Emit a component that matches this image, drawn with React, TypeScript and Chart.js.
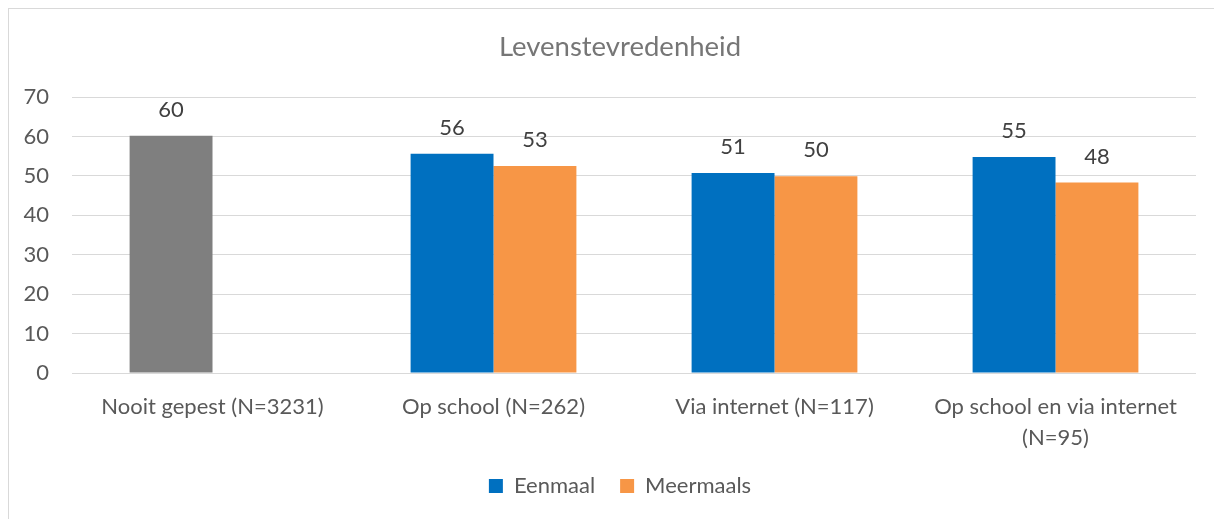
import React, { useEffect, useRef } from "react";
import { Chart, registerables } from "chart.js";

Chart.register(...registerables);

const chartTitle = "Levenstevredenheid";
const categories: string[][] = [
  ["Nooit gepest (N=3231)"],
  ["Op school (N=262)"],
  ["Via internet (N=117)"],
  ["Op school en via internet", "(N=95)"],
];
const seriesNames = ["Eenmaal", "Meermaals"];
const eenmaal: (number | null)[] = [60.2, 55.6, 50.7, 54.8];
const meermaals: (number | null)[] = [null, 52.5, 49.9, 48.3];
const yMin = 0;
const yMax = 70;
const yStep = 10;

const BLUE = "#0070C0";
const ORANGE = "#F79646";
const GRAY = "#7F7F7F";
const TEXT = "#595959";
const FONT = "Lato";

const dataLabelPlugin = {
  id: "dataLabels",
  afterDatasetsDraw(chart: any) {
    const ctx = chart.ctx;
    ctx.save();
    ctx.font = `22px ${FONT}`;
    ctx.fillStyle = "#404040";
    ctx.textAlign = "center";
    ctx.textBaseline = "middle";
    chart.data.datasets.forEach((ds: any, di: number) => {
      const meta = chart.getDatasetMeta(di);
      meta.data.forEach((el: any, i: number) => {
        const v = ds.data[i];
        if (v == null) return;
        ctx.fillText(String(Math.round(v)), el.x, el.y - 26);
      });
    });
    ctx.restore();
  },
};

export default function App() {
  const ref = useRef<HTMLCanvasElement>(null);
  useEffect(() => {
    if (!ref.current) return;
    const chart = new Chart(ref.current, {
      type: "bar",
      data: {
        labels: categories,
        datasets: [
          {
            label: seriesNames[0],
            data: eenmaal,
            backgroundColor: (c: any) => (meermaals[c.dataIndex] == null ? GRAY : BLUE),
            categoryPercentage: 0.59,
            barPercentage: 1,
          },
          {
            label: seriesNames[1],
            data: meermaals,
            backgroundColor: ORANGE,
            categoryPercentage: 0.59,
            barPercentage: 1,
          },
        ],
      },
      options: {
        animation: false,
        responsive: true,
        maintainAspectRatio: false,
        layout: { padding: { top: 0, right: 0, bottom: 12, left: 0 } },
        plugins: {
          title: {
            display: true,
            text: chartTitle,
            color: "#767676",
            font: { family: FONT, size: 27.5, weight: "normal" },
            padding: { top: 22, bottom: 33 },
          },
          legend: {
            position: "bottom",
            labels: {
              color: TEXT,
              font: { family: FONT, size: 22 },
              boxWidth: 14,
              boxHeight: 14,
              padding: 25,
              generateLabels: () => [
                { text: seriesNames[0], fillStyle: BLUE, strokeStyle: BLUE, lineWidth: 0, hidden: false, datasetIndex: 0, fontColor: TEXT },
                { text: seriesNames[1], fillStyle: ORANGE, strokeStyle: ORANGE, lineWidth: 0, hidden: false, datasetIndex: 1, fontColor: TEXT },
              ],
            },
          },
          tooltip: { enabled: false },
        },
        scales: {
          x: {
            grid: { display: false, drawTicks: false },
            border: { display: false },
            ticks: {
              color: TEXT,
              font: { family: FONT, size: 22, lineHeight: 1.42 },
              padding: 18,
              maxRotation: 0,
              autoSkip: false,
            },
            afterFit: (s: any) => {
              s.height = 77;
            },
          },
          y: {
            min: yMin,
            max: yMax,
            ticks: {
              stepSize: yStep,
              color: TEXT,
              font: { family: FONT, size: 22 },
              padding: 23,
            },
            grid: { color: "#D9D9D9", drawTicks: false, lineWidth: 1 },
            border: { display: false },
            afterFit: (s: any) => {
              s.width = 63;
            },
          },
          yRight: {
            position: "right",
            min: yMin,
            max: yMax,
            grid: { display: false, drawTicks: false },
            border: { display: false },
            ticks: { display: false },
            afterFit: (s: any) => {
              s.width = 35;
            },
          },
        },
      },
      plugins: [dataLabelPlugin],
    });
    return () => chart.destroy();
  }, []);

  return (
    <div
      style={{
        width: 1213,
        height: 511,
        overflow: "hidden",
        borderLeft: "1px solid #D9D9D9",
        borderTop: "1px solid #D9D9D9",
        boxSizing: "border-box",
      }}
    >
      <div style={{ position: "relative", width: 1222, height: 510 }}>
        <canvas ref={ref} />
      </div>
    </div>
  );
}
